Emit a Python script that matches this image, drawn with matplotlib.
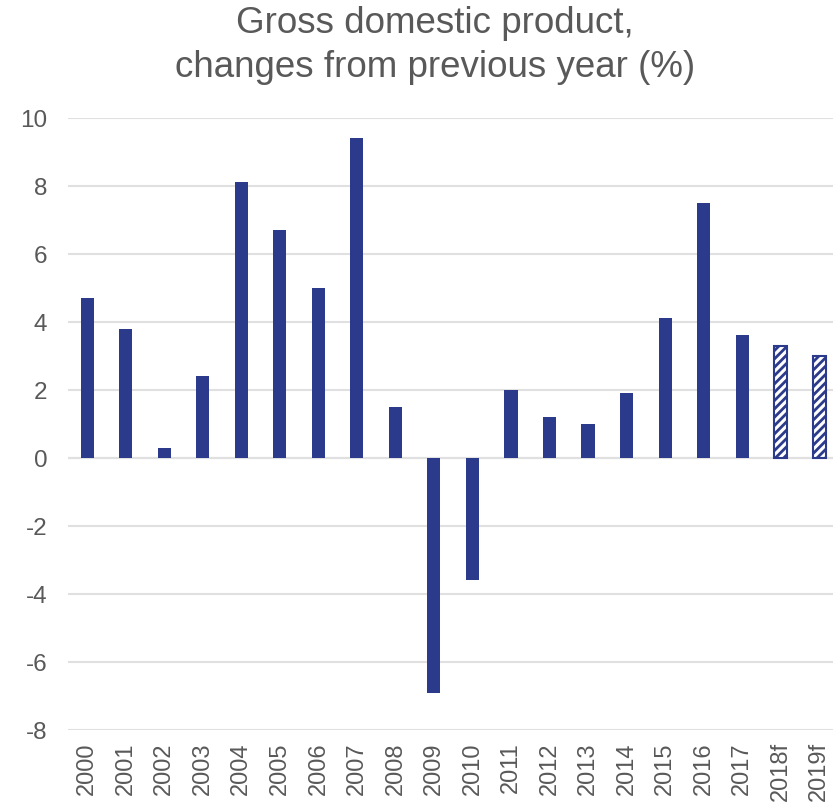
import matplotlib.pyplot as plt
import numpy as np

plt.rcParams['font.family'] = ['Liberation Sans', 'DejaVu Sans']
plt.rcParams['axes.unicode_minus'] = False

years = ['2000', '2001', '2002', '2003', '2004', '2005', '2006', '2007', '2008', '2009',
         '2010', '2011', '2012', '2013', '2014', '2015', '2016', '2017', '2018f', '2019f']
gdp_change = [4.7, 3.8, 0.3, 2.4, 8.1, 6.7, 5.0, 9.4, 1.5, -6.9,
              -3.6, 2.0, 1.2, 1.0, 1.9, 4.1, 7.5, 3.6, 3.3, 3.0]
forecast = [y.endswith('f') for y in years]

BLUE = '#2b3a8a'
GREY_TEXT = '#595959'
GRID = '#e0e0e0'

fig = plt.figure(figsize=(8.33, 8.03), dpi=100)
ax = fig.add_axes([0.0816, 0.0897, 0.918, 0.7623])

x = np.arange(len(years))
plt.rcParams['hatch.color'] = BLUE
plt.rcParams['hatch.linewidth'] = 2.0
for xi, v, f in zip(x, gdp_change, forecast):
    if f:
        # forecast years: hatched outline bars
        ax.bar(xi, v, width=0.34, facecolor='white', edgecolor=BLUE,
               hatch='////', linewidth=1.5, zorder=3)
    else:
        ax.bar(xi, v, width=0.34, color=BLUE, zorder=3)

ax.set_ylim(-8, 10)
ax.set_xlim(-0.5, 19.35)
ax.set_yticks(np.arange(-8, 11, 2))
ax.yaxis.grid(True, color=GRID, linewidth=1.5, zorder=0)
ax.axhline(0, color='#d9d9d9', linewidth=1.5, zorder=1)
for s in ax.spines.values():
    s.set_visible(False)

ax.set_xticks(x)
ax.set_xticklabels(years, rotation=90, color=GREY_TEXT)
ax.tick_params(axis='both', length=0, labelsize=17.5, labelcolor=GREY_TEXT)
ax.tick_params(axis='x', pad=8, labelsize=17)
ax.tick_params(axis='y', pad=15)

fig.text(0.522, 0.993, 'Gross domestic product,\nchanges from previous year (%)',
         ha='center', va='top', fontsize=26.5, color=GREY_TEXT, linespacing=1.35)

fig.savefig('out.png', dpi=100)
